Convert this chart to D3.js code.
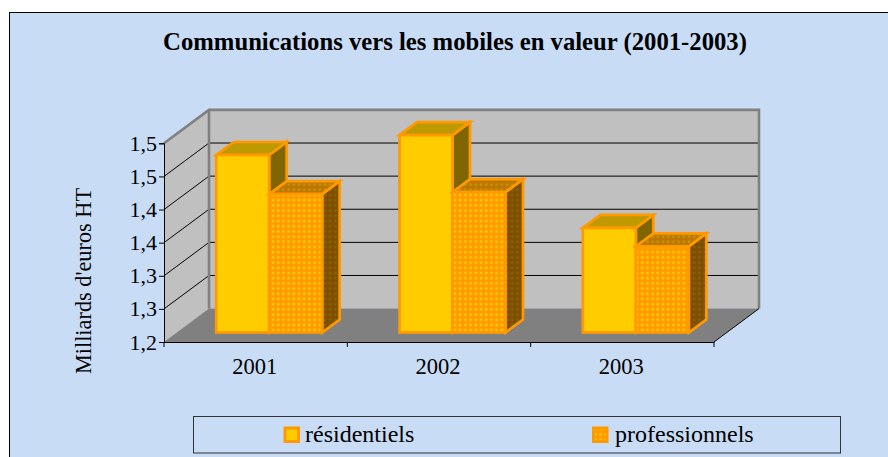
<!DOCTYPE html>
<html><head><meta charset="utf-8">
<script src="https://cdnjs.cloudflare.com/ajax/libs/d3/7.8.5/d3.min.js"></script>
<style>html,body{margin:0;padding:0;background:#fff}svg{display:block}text{font-family:"Liberation Serif",serif;fill:#000}</style>
</head><body><svg id="c" width="888" height="457"></svg>
<script>
const categories=["2001","2002","2003"];
const seriesNames=["résidentiels","professionnels"];
const residentiels=[1.468,1.498,1.358];
const professionnels=[1.409,1.412,1.33];
const tickValues=[1.2,1.25,1.3,1.35,1.4,1.45,1.5];
const tickLabels=["1,2","1,3","1,3","1,4","1,4","1,5","1,5"];
const title="Communications vers les mobiles en valeur (2001-2003)";
const yTitle="Milliards d'euros HT";

const svg=d3.select("#c");
const L=164,R=714,B=342,T=143.3,DX=45,DY=-33.4;
const y=d3.scaleLinear().domain([1.2,1.5]).range([B,T]);
const x0=d3.scaleBand().domain(categories).range([L,R]);
const x1=d3.scaleBand().domain(seriesNames).range([0,x0.bandwidth()]).paddingInner(0).paddingOuter(0.73);
const bdx=17.5,bdy=-13,ox=13.5,oy=-9.5;
const poly=p=>p.map(d=>d.join(",")).join(" ");

const defs=svg.append("defs");
function pat(id,bg,fg){
  const p=defs.append("pattern").attr("id",id).attr("patternUnits","userSpaceOnUse").attr("width",5.2).attr("height",5.2);
  p.append("rect").attr("width",5.2).attr("height",5.2).attr("fill",bg);
  p.append("rect").attr("x",1.3).attr("y",1.3).attr("width",2.6).attr("height",2.6).attr("fill",fg);
}
pat("pFront","#FF9900","#FFCC00");
pat("pTop","#BF7300","#BF9900");
pat("pSide","#804D00","#806600");

svg.append("rect").attr("x",9.5).attr("y",12.5).attr("width",890).attr("height",460).attr("fill","#C9DCF5").attr("stroke","#000").attr("stroke-width",1);

// walls
svg.append("polygon").attr("points",poly([[L,T],[L+DX,T+DY],[L+DX,B+DY],[L,B]])).attr("fill","#C0C0C0");
svg.append("polygon").attr("points",poly([[L+DX,T+DY],[R+DX,T+DY],[R+DX,B+DY],[L+DX,B+DY]])).attr("fill","#C0C0C0");
svg.append("polygon").attr("points",poly([[L,B],[L+DX,B+DY],[R+DX,B+DY],[R,B]])).attr("fill","#808080");
// gridlines
tickValues.slice(1).forEach(v=>{
  svg.append("polyline").attr("points",poly([[L,y(v)],[L+DX,y(v)+DY],[R+DX,y(v)+DY]])).attr("fill","none").attr("stroke","#000").attr("stroke-width",1);
});
// wall outline
svg.append("polyline").attr("points",poly([[L,T],[L+DX,T+DY],[R+DX,T+DY],[R+DX,B+DY]])).attr("fill","none").attr("stroke","#808080").attr("stroke-width",2.6);
svg.append("line").attr("x1",L+DX).attr("x2",L+DX).attr("y1",T+DY).attr("y2",B+DY).attr("stroke","#808080").attr("stroke-width",2.6);
svg.append("line").attr("x1",R).attr("x2",R+DX).attr("y1",B).attr("y2",B+DY).attr("stroke","#000").attr("stroke-width",1);

// bars
const stroke="#FF9900",sw=2.7;
function bar(cat,name,val,front,top,side){
  const xl=x0(cat)+x1(name)+ox,xr=xl+x1.bandwidth(),yt=y(val)+oy,yb=y(1.2)+oy;
  const g=svg.append("g").attr("stroke",stroke).attr("stroke-width",sw).attr("stroke-linejoin","miter");
  g.append("polygon").attr("points",poly([[xr,yt],[xr+bdx,yt+bdy],[xr+bdx,yb+bdy],[xr,yb]])).attr("fill",side);
  g.append("polygon").attr("points",poly([[xl,yt],[xl+bdx,yt+bdy],[xr+bdx,yt+bdy],[xr,yt]])).attr("fill",top);
  g.append("rect").attr("x",xl).attr("y",yt).attr("width",xr-xl).attr("height",yb-yt).attr("fill",front);
}
categories.forEach((c,i)=>{
  bar(c,seriesNames[0],residentiels[i],"#FFCC00","#BF9900","#806600");
  bar(c,seriesNames[1],professionnels[i],"url(#pFront)","url(#pTop)","url(#pSide)");
});

// axes
const ax=svg.append("g").attr("transform",`translate(${L},0)`).call(d3.axisLeft(y).tickValues(tickValues).tickFormat((d,i)=>tickLabels[i]).tickSize(5).tickPadding(2));
ax.selectAll("text").attr("font-size",22).style("font-family",'"Liberation Serif",serif').attr("fill","#000");
ax.selectAll("line,path").attr("stroke","#000");
const abot=svg.append("g").attr("transform",`translate(0,${B})`).call(d3.axisBottom(x0).tickSize(0).tickPadding(16));
abot.selectAll("text").attr("font-size",22.5).attr("dx",-1).style("font-family",'"Liberation Serif",serif').attr("fill","#000");
abot.selectAll("path").attr("stroke","#000").attr("d",`M${L},0.5H${R}`);
abot.selectAll("line").remove();
[...categories.map(c=>x0(c)),R].forEach(v=>svg.append("line").attr("x1",v).attr("x2",v).attr("y1",B).attr("y2",B+5).attr("stroke","#000"));

svg.append("text").attr("x",455).attr("y",50).attr("text-anchor","middle").attr("font-weight","bold").attr("font-size",24.7).text(title);
svg.append("text").attr("transform","translate(91,281) rotate(-90)").attr("text-anchor","middle").attr("font-size",22.3).text(yTitle);

// legend
svg.append("rect").attr("x",193.5).attr("y",416.5).attr("width",647).attr("height",36.5).attr("fill","none").attr("stroke","#333").attr("stroke-width",1);
const lx=[285,593.5],lt=[305,615];
seriesNames.forEach((n,i)=>{
  svg.append("rect").attr("x",lx[i]).attr("y",428).attr("width",13.5).attr("height",13.5).attr("fill",i?"url(#pFront)":"#FFCC00").attr("stroke",stroke).attr("stroke-width",3);
  svg.append("text").attr("x",lt[i]).attr("y",442).attr("font-size",24).text(n);
});
</script></body></html>
